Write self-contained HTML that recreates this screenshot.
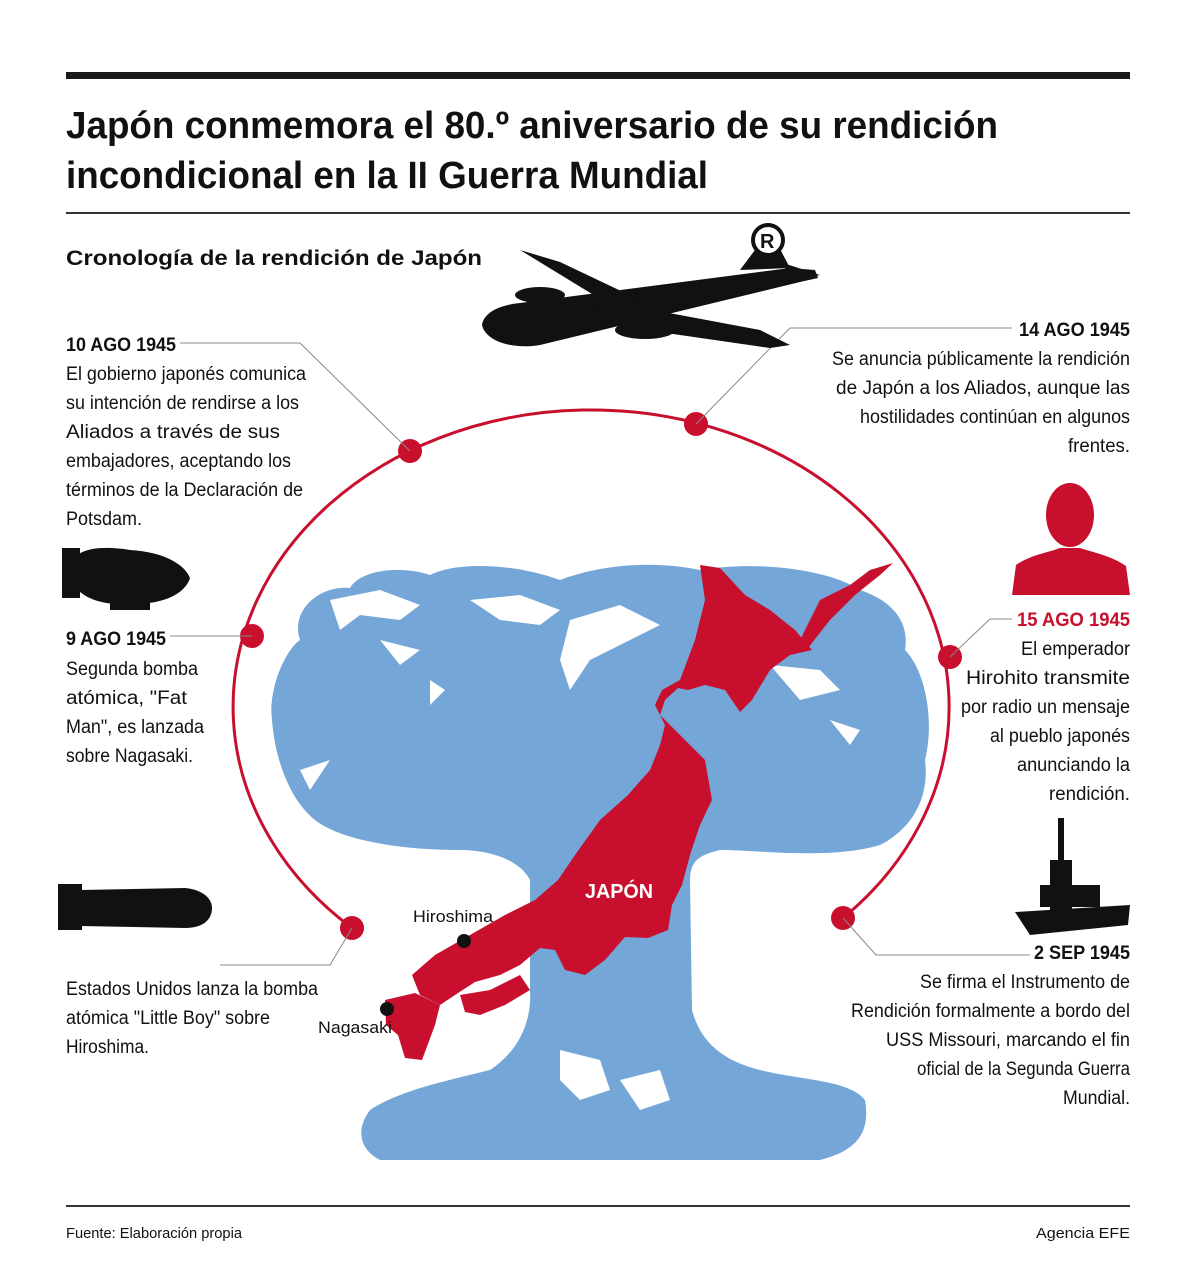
<!DOCTYPE html>
<html><head><meta charset="utf-8"><style>
html,body{margin:0;padding:0;background:#fff}
svg{display:block}
text{font-family:"Liberation Sans",sans-serif;fill:#111}
</style></head><body>
<svg width="1195" height="1280" viewBox="0 0 1195 1280" xmlns="http://www.w3.org/2000/svg">
<rect x="66" y="72" width="1064" height="7" fill="#1a1a1a"/>
<text x="66" y="138" font-size="38" font-weight="bold" textLength="932" lengthAdjust="spacingAndGlyphs" fill="#222">Japón conmemora el 80.º aniversario de su rendición</text>
<text x="66" y="188" font-size="38" font-weight="bold" textLength="642" lengthAdjust="spacingAndGlyphs" fill="#222">incondicional en la II Guerra Mundial</text>
<rect x="66" y="212" width="1064" height="2" fill="#333"/>
<text x="66" y="265" font-size="21" font-weight="bold" textLength="416" lengthAdjust="spacingAndGlyphs" fill="#333">Cronología de la rendición de Japón</text>

<!-- cloud -->
<g fill="#74a7d8">
<path d="M272 720 C268 690 285 650 300 640 C290 610 320 585 350 588 C360 570 400 565 430 575 C460 560 520 565 560 580 C600 565 650 560 700 570 C760 560 830 570 860 590 C890 600 910 620 905 650 C925 670 935 720 925 760 C930 800 910 830 880 845 C830 860 760 850 720 850 C700 855 690 860 690 880 L692 1010 C700 1040 720 1060 760 1070 C800 1080 850 1080 865 1100 C870 1130 860 1150 820 1160 L380 1160 C360 1150 355 1130 370 1110 C400 1090 450 1080 490 1070 C520 1050 532 1020 530 990 L530 880 C520 860 490 850 460 850 C400 850 340 840 315 820 C290 800 275 760 272 720 Z"/>
</g>
<g fill="#fff">
<path d="M330 600 L380 590 L420 605 L400 620 L360 615 L340 630 Z"/>
<path d="M470 600 L520 595 L560 610 L540 625 L500 620 Z"/>
<path d="M570 620 L620 605 L660 625 L630 640 L590 660 L570 690 L560 660 Z"/>
<path d="M380 640 L420 650 L400 665 Z"/>
<path d="M300 770 L330 760 L310 790 Z"/>
<path d="M430 680 L445 690 L430 705 Z"/>
<path d="M560 1050 L600 1060 L610 1090 L580 1100 L560 1080 Z"/>
<path d="M620 1080 L660 1070 L670 1100 L640 1110 Z"/>
<path d="M770 665 L820 670 L840 690 L800 700 Z"/>
<path d="M830 720 L860 730 L850 745 Z"/>
</g>

<!-- Japan -->
<g fill="#c8102e">
<path d="M700 565 L720 568 L745 595 L770 610 L795 630 L812 650 L790 655 L770 670 L752 700 L740 712 L725 690 L705 685 L688 690 L678 688 L665 700 L660 715 L680 735 L690 745 L705 760 L712 800 L700 825 L690 855 L682 885 L672 905 L668 930 L648 938 L625 937 L605 960 L585 975 L565 970 L555 950 L540 948 L520 965 L500 975 L475 982 L455 995 L440 1005 L420 995 L412 975 L435 955 L470 935 L505 915 L535 900 L558 880 L575 855 L600 820 L628 795 L650 770 L660 745 L665 725 L655 705 L662 690 L680 680 L695 640 L705 600 Z"/>
<path d="M385 1000 L415 993 L440 1005 L435 1025 L422 1060 L405 1058 L398 1035 L386 1025 Z"/>
<path d="M460 995 L490 990 L520 975 L530 990 L505 1005 L480 1015 L465 1012 Z"/>
<path d="M800 640 L820 600 L850 585 L870 570 L893 563 L880 575 L855 595 L830 620 L808 648 Z"/>
</g>
<text x="585" y="898" font-size="20" font-weight="bold" fill="#fff" style="fill:#fff" textLength="68" lengthAdjust="spacingAndGlyphs">JAPÓN</text>
<text x="413" y="922" font-size="17" textLength="80" lengthAdjust="spacingAndGlyphs">Hiroshima</text>
<circle cx="464" cy="941" r="7" fill="#111"/>
<text x="318" y="1033" font-size="17" textLength="74" lengthAdjust="spacingAndGlyphs">Nagasaki</text>
<circle cx="387" cy="1009" r="7" fill="#111"/>

<!-- arc -->
<path d="M352 928 A358 297 0 1 1 843 918" fill="none" stroke="#c8102e" stroke-width="3"/>
<g fill="#c8102e">
<circle cx="410" cy="451" r="12"/><circle cx="696" cy="424" r="12"/>
<circle cx="252" cy="636" r="12"/><circle cx="950" cy="657" r="12"/>
<circle cx="352" cy="928" r="12"/><circle cx="843" cy="918" r="12"/>
</g>
<!-- leaders -->
<g fill="none" stroke="#888" stroke-width="1">
<polyline points="180,343 300,343 410,451"/>
<polyline points="170,636 252,636"/>
<polyline points="220,965 330,965 352,928"/>
<polyline points="1012,328 790,328 696,424"/>
<polyline points="1012,619 990,619 950,657"/>
<polyline points="843,918 876,955 1030,955"/>
</g>

<!-- left texts -->
<g font-size="19">
<text x="66" y="351" font-weight="bold" textLength="110" lengthAdjust="spacingAndGlyphs">10 AGO 1945</text>
<text x="66" y="380" textLength="240" lengthAdjust="spacingAndGlyphs">El gobierno japonés comunica</text>
<text x="66" y="409" textLength="233" lengthAdjust="spacingAndGlyphs">su intención de rendirse a los</text>
<text x="66" y="438" textLength="214" lengthAdjust="spacingAndGlyphs">Aliados a través de sus</text>
<text x="66" y="467" textLength="225" lengthAdjust="spacingAndGlyphs">embajadores, aceptando los</text>
<text x="66" y="496" textLength="237" lengthAdjust="spacingAndGlyphs">términos de la Declaración de</text>
<text x="66" y="525" textLength="76" lengthAdjust="spacingAndGlyphs">Potsdam.</text>

<text x="66" y="645" font-weight="bold" textLength="100" lengthAdjust="spacingAndGlyphs">9 AGO 1945</text>
<text x="66" y="675" textLength="132" lengthAdjust="spacingAndGlyphs">Segunda bomba</text>
<text x="66" y="704" textLength="121" lengthAdjust="spacingAndGlyphs">atómica, "Fat</text>
<text x="66" y="733" textLength="138" lengthAdjust="spacingAndGlyphs">Man", es lanzada</text>
<text x="66" y="762" textLength="127" lengthAdjust="spacingAndGlyphs">sobre Nagasaki.</text>

<text x="66" y="995" textLength="252" lengthAdjust="spacingAndGlyphs">Estados Unidos lanza la bomba</text>
<text x="66" y="1024" textLength="204" lengthAdjust="spacingAndGlyphs">atómica "Little Boy" sobre</text>
<text x="66" y="1053" textLength="83" lengthAdjust="spacingAndGlyphs">Hiroshima.</text>
</g>
<!-- right texts -->
<g font-size="19">
<text x="1019" y="336" font-weight="bold" textLength="111" lengthAdjust="spacingAndGlyphs">14 AGO 1945</text>
<text x="832" y="365" textLength="298" lengthAdjust="spacingAndGlyphs">Se anuncia públicamente la rendición</text>
<text x="836" y="394" textLength="294" lengthAdjust="spacingAndGlyphs">de Japón a los Aliados, aunque las</text>
<text x="860" y="423" textLength="270" lengthAdjust="spacingAndGlyphs">hostilidades continúan en algunos</text>
<text x="1068" y="452" textLength="62" lengthAdjust="spacingAndGlyphs">frentes.</text>

<text x="1017" y="626" font-weight="bold" style="fill:#c8102e" textLength="113" lengthAdjust="spacingAndGlyphs">15 AGO 1945</text>
<text x="1021" y="655" textLength="109" lengthAdjust="spacingAndGlyphs">El emperador</text>
<text x="966" y="684" textLength="164" lengthAdjust="spacingAndGlyphs">Hirohito transmite</text>
<text x="961" y="713" textLength="169" lengthAdjust="spacingAndGlyphs">por radio un mensaje</text>
<text x="990" y="742" textLength="140" lengthAdjust="spacingAndGlyphs">al pueblo japonés</text>
<text x="1017" y="771" textLength="113" lengthAdjust="spacingAndGlyphs">anunciando la</text>
<text x="1049" y="800" textLength="81" lengthAdjust="spacingAndGlyphs">rendición.</text>

<text x="1034" y="959" font-weight="bold" textLength="96" lengthAdjust="spacingAndGlyphs">2 SEP 1945</text>
<text x="920" y="988" textLength="210" lengthAdjust="spacingAndGlyphs">Se firma el Instrumento de</text>
<text x="851" y="1017" textLength="279" lengthAdjust="spacingAndGlyphs">Rendición formalmente a bordo del</text>
<text x="886" y="1046" textLength="244" lengthAdjust="spacingAndGlyphs">USS Missouri, marcando el fin</text>
<text x="917" y="1075" textLength="213" lengthAdjust="spacingAndGlyphs">oficial de la Segunda Guerra</text>
<text x="1063" y="1104" textLength="67" lengthAdjust="spacingAndGlyphs">Mundial.</text>
</g>

<!-- plane -->
<g fill="#111">
<path d="M482 325 C484 312 500 305 520 303 L790 268 L815 270 L818 278 L800 282 L540 345 C510 350 485 340 482 325 Z"/>
<path d="M520 250 L560 262 L640 300 L610 305 Z"/>
<path d="M600 300 L760 330 L790 345 L770 348 L590 322 Z"/>
<path d="M740 270 L770 230 L790 268 Z"/>
<path d="M780 262 L820 275 L795 280 Z"/>
<ellipse cx="540" cy="295" rx="25" ry="8"/><ellipse cx="645" cy="330" rx="30" ry="9"/>
<ellipse cx="590" cy="318" rx="22" ry="7"/>
<circle cx="768" cy="240" r="15" fill="#fff" stroke="#111" stroke-width="4"/>
</g>
<text x="760" y="248" font-size="20" font-weight="bold">R</text>

<!-- fat man -->
<g fill="#111">
<path d="M70 570 C70 548 100 545 130 550 C165 552 185 565 190 578 C185 595 160 605 130 604 C100 606 70 596 70 570 Z"/>
<rect x="62" y="548" width="18" height="50"/>
<rect x="110" y="600" width="40" height="10"/>
</g>
<!-- little boy -->
<g fill="#111">
<path d="M80 890 L185 888 C205 890 212 900 212 908 C212 918 205 928 185 928 L80 926 Z"/>
<rect x="58" y="884" width="24" height="46"/>
</g>
<!-- Hirohito -->
<g fill="#c8102e">
<path d="M1012 595 L1016 565 C1030 555 1050 552 1060 548 L1080 548 C1092 552 1112 556 1126 566 L1130 595 Z"/>
<ellipse cx="1070" cy="515" rx="24" ry="32"/>
</g>
<!-- ship -->
<g fill="#111">
<path d="M1015 912 L1130 905 L1128 925 L1030 935 Z"/>
<rect x="1050" y="860" width="22" height="50"/>
<rect x="1058" y="818" width="6" height="45"/>
<rect x="1040" y="885" width="60" height="22"/>
</g>

<rect x="66" y="1205" width="1064" height="2" fill="#333"/>
<text x="66" y="1238" font-size="15" textLength="176" lengthAdjust="spacingAndGlyphs" fill="#333">Fuente: Elaboración propia</text>
<text x="1036" y="1238" font-size="15" textLength="94" lengthAdjust="spacingAndGlyphs" fill="#333">Agencia EFE</text>
</svg>
</body></html>
